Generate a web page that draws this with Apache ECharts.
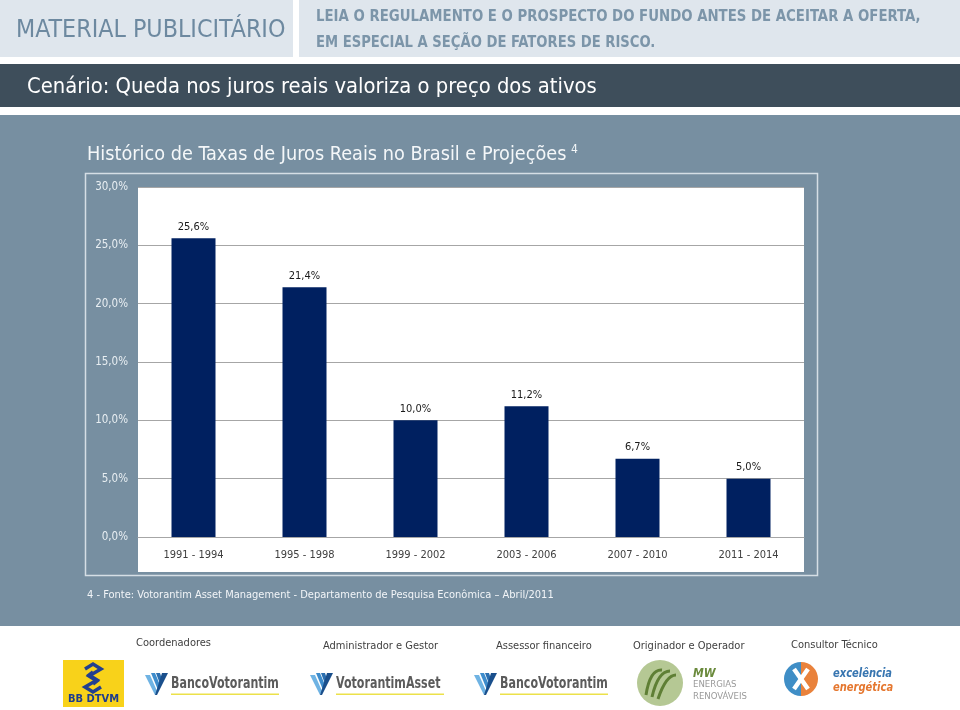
<!DOCTYPE html>
<html><head><meta charset="utf-8">
<script src="https://cdn.jsdelivr.net/npm/echarts@6/dist/echarts.min.js"></script>
<style>html,body{margin:0;padding:0;background:#fff}#c{width:960px;height:710px}</style>
</head><body><div id="c"></div>
<script>
const categories = ['1991 - 1994','1995 - 1998','1999 - 2002','2003 - 2006','2007 - 2010','2011 - 2014'];
const rates = [25.6, 21.4, 10.0, 11.2, 6.7, 5.0];
const yTicks = [0, 5, 10, 15, 20, 25, 30];

const F = '"Liberation Sans Narrow","DejaVu Sans Condensed",sans-serif';
const fmt = v => v.toFixed(1).replace('.', ',') + '%';

function vLogo(x, y, label) {
  return {
    type: 'group', x: x, y: y, children: [
      {type:'polygon', shape:{points:[[0,2],[5,2],[12,18],[10,22]]}, style:{fill:'#6fb3e3'}},
      {type:'polygon', shape:{points:[[6,0],[10,0],[15,12],[13,17]]}, style:{fill:'#3d8ccc'}},
      {type:'polygon', shape:{points:[[11,0],[15,0],[17,6],[15,11]]}, style:{fill:'#2b6fb0'}},
      {type:'polygon', shape:{points:[[17,0],[23,0],[12,22],[10,22]]}, style:{fill:'#1a4f8c'}},
      {type:'text', x: 26, y: 11, scaleX: 0.77, style:{text: label, font: 'bold 16px ' + F, fill:'#5b5b5b', verticalAlign:'middle'}},
      {type:'rect', shape:{x:26, y:20.5, width:108, height:1.5}, style:{fill:'#ece14a'}}
    ]
  };
}

const chart = echarts.init(document.getElementById('c'), null, {renderer:'canvas'});
chart.setOption({
  animation: false,
  backgroundColor: '#ffffff',
  grid: {left: 138, right: 156, top: 187, bottom: 173, containLabel: false},
  xAxis: {
    type: 'category', data: categories,
    axisLine: {show: true, lineStyle: {color: '#a6a6a6', width: 1}},
    axisTick: {show: false},
    axisLabel: {color: '#404040', fontSize: 11, fontFamily: F, margin: 13}
  },
  yAxis: {
    type: 'value', min: 0, max: 30, interval: 5,
    axisLine: {show: false}, axisTick: {show: false},
    axisLabel: {color: '#e8eef2', fontSize: 11.5, fontFamily: F, margin: 10, formatter: v => yTicks.includes(v) ? fmt(v) : ''},
    splitLine: {show: true, lineStyle: {color: '#a6a6a6', width: 1}}
  },
  series: [{
    type: 'bar', data: rates, barWidth: 44, z: 5,
    itemStyle: {color: '#002060'},
    label: {show: true, position: 'top', distance: 6, color: '#1a1a1a', fontSize: 11, fontFamily: F, formatter: p => fmt(p.value)}
  }],
  graphic: [
    // header
    {type:'rect', z:-10, shape:{x:0, y:0, width:293, height:57}, style:{fill:'#dfe6ed'}},
    {type:'rect', z:-10, shape:{x:299, y:0, width:661, height:57}, style:{fill:'#dfe6ed'}},
    {type:'text', z:1, x:16, y:30, scaleX:0.99, style:{text:'MATERIAL PUBLICITÁRIO', font:'25px ' + F, fill:'#6d89a0', verticalAlign:'middle'}},
    {type:'text', z:1, x:316, y:17, scaleX:0.925, style:{text:'LEIA O REGULAMENTO E O PROSPECTO DO FUNDO ANTES DE ACEITAR A OFERTA,', font:'bold 16px ' + F, fill:'#7c95a9', verticalAlign:'middle'}},
    {type:'text', z:1, x:316, y:43, scaleX:0.915, style:{text:'EM ESPECIAL A SEÇÃO DE FATORES DE RISCO.', font:'bold 16px ' + F, fill:'#7c95a9', verticalAlign:'middle'}},
    {type:'rect', z:-10, shape:{x:0, y:64, width:960, height:43}, style:{fill:'#3e4e5b'}},
    {type:'text', z:1, x:27, y:87, style:{text:'Cenário: Queda nos juros reais valoriza o preço dos ativos', font:'21.8px ' + F, fill:'#ffffff', verticalAlign:'middle'}},
    // main panel
    {type:'rect', z:-10, shape:{x:0, y:115, width:960, height:511}, style:{fill:'#778fa1'}},
    {type:'text', z:1, x:87, y:155, style:{text:'Histórico de Taxas de Juros Reais no Brasil e Projeções', font:'19.7px ' + F, fill:'#f4f7f9', verticalAlign:'middle'}},
    {type:'text', z:1, x:571, y:150, style:{text:'4', font:'12px ' + F, fill:'#f4f7f9', verticalAlign:'middle'}},
    {type:'rect', z:-5, shape:{x:85.5, y:173.5, width:732, height:402}, style:{fill:'none', stroke:'#d5dee5', lineWidth:1.5}},
    {type:'rect', z:-5, shape:{x:138, y:187, width:666, height:385}, style:{fill:'#ffffff'}},
    {type:'text', z:1, x:87, y:595, style:{text:'4 - Fonte: Votorantim Asset Management - Departamento de Pesquisa Econômica – Abril/2011', font:'11px ' + F, fill:'#f2f5f8', verticalAlign:'middle'}},
    // footer captions
    {type:'text', x:136, y:643, style:{text:'Coordenadores', font:'11px ' + F, fill:'#404040', verticalAlign:'middle'}},
    {type:'text', x:323, y:646, style:{text:'Administrador e Gestor', font:'11px ' + F, fill:'#404040', verticalAlign:'middle'}},
    {type:'text', x:496, y:646, style:{text:'Assessor financeiro', font:'11px ' + F, fill:'#404040', verticalAlign:'middle'}},
    {type:'text', x:633, y:646, style:{text:'Originador e Operador', font:'11px ' + F, fill:'#404040', verticalAlign:'middle'}},
    {type:'text', x:791, y:645, style:{text:'Consultor Técnico', font:'11px ' + F, fill:'#404040', verticalAlign:'middle'}},
    // BB DTVM logo
    {type:'group', x:63, y:660, children:[
      {type:'rect', shape:{x:0, y:0, width:61, height:47}, style:{fill:'#f8d21a'}},
      {type:'polyline', shape:{points:[[22,9],[30,4],[38,9],[26,16],[34,21],[30,24]]}, style:{stroke:'#223f8f', lineWidth:3.5, fill:'none'}},
      {type:'polyline', shape:{points:[[38,27],[30,32],[22,27],[34,20],[26,15],[30,12]]}, style:{stroke:'#223f8f', lineWidth:3.5, fill:'none'}},
      {type:'text', x:30.5, y:39, style:{text:'BB DTVM', font:'bold 11px ' + F, fill:'#1d3c8d', align:'center', verticalAlign:'middle'}}
    ]},
    vLogo(145, 673, 'BancoVotorantim'),
    vLogo(310, 673, 'VotorantimAsset'),
    vLogo(474, 673, 'BancoVotorantim'),
    // MW logo
    {type:'group', x:637, y:660, children:[
      {type:'circle', shape:{cx:23, cy:23, r:23}, style:{fill:'#b5c894'}},
      {type:'bezierCurve', shape:{x1:9, y1:35, cpx1:13, cpy1:9, x2:25, y2:10}, style:{stroke:'#5f7f35', lineWidth:3, fill:'none'}},
      {type:'bezierCurve', shape:{x1:15, y1:37, cpx1:21, cpy1:11, x2:33, y2:11}, style:{stroke:'#5f7f35', lineWidth:3, fill:'none'}},
      {type:'bezierCurve', shape:{x1:21, y1:39, cpx1:29, cpy1:15, x2:39, y2:15}, style:{stroke:'#5f7f35', lineWidth:3, fill:'none'}},
      {type:'text', x:56, y:14, style:{text:'MW', font:'bold italic 12px ' + F, fill:'#6a8a3c', verticalAlign:'middle'}},
      {type:'text', x:56, y:25, style:{text:'ENERGIAS', font:'9.5px ' + F, fill:'#9a9a9a', verticalAlign:'middle'}},
      {type:'text', x:56, y:37, style:{text:'RENOVÁVEIS', font:'9.5px ' + F, fill:'#9a9a9a', verticalAlign:'middle'}}
    ]},
    // excelencia logo
    {type:'group', x:785, y:662, children:[
      {type:'sector', shape:{cx:16, cy:17, r:17, startAngle:Math.PI/2, endAngle:Math.PI*1.5}, style:{fill:'#3f8ec6'}},
      {type:'sector', shape:{cx:16, cy:17, r:17, startAngle:-Math.PI/2, endAngle:Math.PI/2}, style:{fill:'#e9823c'}},
      {type:'polyline', shape:{points:[[9,7],[16,17],[9,27]]}, style:{stroke:'#ffffff', lineWidth:4.5, fill:'none'}},
      {type:'polyline', shape:{points:[[23,7],[16,17],[23,27]]}, style:{stroke:'#ffffff', lineWidth:4.5, fill:'none'}},
      {type:'text', x:48, y:12, scaleX:0.85, style:{text:'excelência', font:'bold italic 13px ' + F, fill:'#3775b0', verticalAlign:'middle'}},
      {type:'text', x:48, y:26, scaleX:0.85, style:{text:'energética', font:'bold italic 13px ' + F, fill:'#e5772f', verticalAlign:'middle'}}
    ]}
  ]
});
</script></body></html>
